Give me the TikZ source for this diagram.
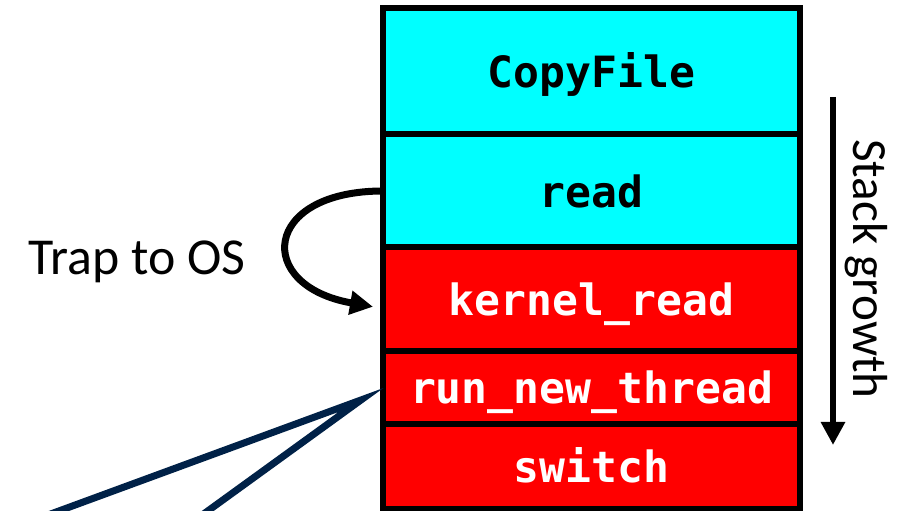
\documentclass[tikz,border=0pt]{standalone}
\usepackage{fontspec}
\usepackage{tikz}
\usetikzlibrary{arrows.meta,positioning}
\setmainfont{Carlito}
\newfontfamily\codefont{DejaVu Sans Mono}
\definecolor{navy}{HTML}{002147}
\definecolor{usercyan}{HTML}{00FFFF}
\definecolor{kernred}{HTML}{FF0000}

\begin{document}
\begin{tikzpicture}[
  frame/.style={draw=black, line width=0.12cm, outer sep=0pt, inner sep=0pt, minimum width=8.34cm, text height=0.66cm, text depth=0cm, font=\codefont\bfseries\fontsize{24.5}{29}\selectfont},
  user/.style={frame, fill=usercyan, text=black},
  kern/.style={frame, fill=kernred, text=white},
  bigarrow/.style={line width=0.12cm, -{Triangle[length=0.46cm,width=0.46cm]}},
  callout/.style={draw=navy, line width=0.14cm, line join=miter}
]
\useasboundingbox (0,0) rectangle (18.04,10.22);
% pila
\node[user, minimum height=2.53cm] (copy) at (11.83,8.795) {CopyFile};
\node[user, minimum height=2.26cm] (read) at (11.83,6.40) {read};
\node[kern, minimum height=2.07cm] (kernel) at (11.83,4.235) {kernel\_read};
\node[kern, minimum height=1.46cm] (run) at (11.83,2.47) {run\_new\_thread};
\node[kern, minimum height=1.70cm] (switch) at (11.83,0.89) {switch};
% trap
\node[font=\fontsize{29.5}{34}\selectfont] (trap) at (2.74,4.98) {Trap to OS};
\draw[bigarrow, line width=0.14cm] (read.west) .. controls +(180:2.42) and +(170:2.42) .. ([xshift=-0.2cm,yshift=-0.15cm]kernel.west);
% crescita
\coordinate (growtop) at (16.66,8.28);
\coordinate (growbot) at (16.66,1.32);
\draw[bigarrow] (growtop) -- (growbot);
\node[rotate=-90, font=\fontsize{28}{33}\selectfont] (growth) at (17.32,4.84) {Stack growth};
% richiamo
\coordinate (tailA) at (0.36,-0.3);
\coordinate (tailB) at (3.74,-0.3);
\draw[callout] (tailA) -- ([xshift=-0.44cm,yshift=-0.25cm]run.west) -- (tailB);
\end{tikzpicture}
\end{document}
